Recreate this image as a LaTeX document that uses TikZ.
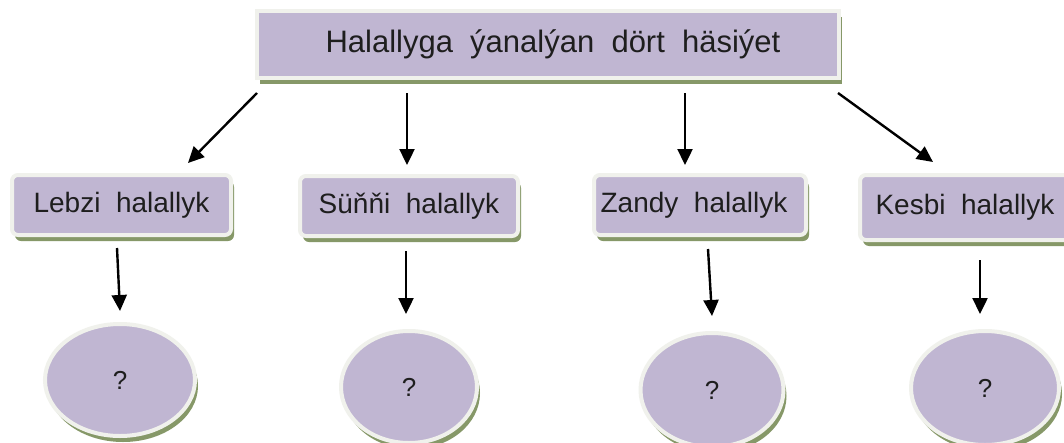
\documentclass[tikz,border=0pt]{standalone}
\usepackage{fontspec}
\setmainfont{Liberation Sans}
\usetikzlibrary{arrows.meta,shadows,shapes.geometric}
\definecolor{boxfill}{RGB}{192,182,210}
\definecolor{rim}{RGB}{240,241,236}
\definecolor{shade}{RGB}{134,152,104}
\definecolor{ink}{RGB}{30,30,30}
\begin{document}
\begin{tikzpicture}[x=1pt,y=-1pt,
  base/.style={fill=boxfill, draw=rim, line width=4pt, text=ink, inner sep=0pt},
  shadowed/.style={drop shadow={shadow xshift=3pt, shadow yshift=-6pt, fill=shade, opacity=1}},
  topbox/.style={base, shadowed, rectangle, minimum width=582pt, minimum height=67pt,
    font=\fontsize{31}{36}\selectfont},
  catbox/.style={base, shadowed, rectangle, rounded corners=6pt,
    font=\fontsize{28}{32}\selectfont},
  qoval/.style={base, shadowed, ellipse, font=\fontsize{26}{30}\selectfont},
  arr/.style={line width=2.4pt, draw=black, -{Triangle[length=16pt,width=15pt]}}
]
\useasboundingbox (0,0) rectangle (1064,442);
\clip (0,0) rectangle (1064,442);
\fill[white] (0,0) rectangle (1064,442);

\node[topbox] (top) at (548,44.5) {\hspace*{10pt}Halallyga\ \ ýanalýan\ \ dört\ \ häsiýet};

\node[catbox, minimum width=219pt, minimum height=60pt] (lebzi) at (121.5,205) {Lebzi\ \ halallyk};
\node[catbox, minimum width=218pt, minimum height=60pt] (sunni) at (409,206) {Süňňi\ \ halallyk};
\node[catbox, minimum width=212pt, minimum height=60pt] (zandy) at (700,205) {Zandy\ \ halallyk\hspace*{12pt}};
\node[catbox, minimum width=210pt, minimum height=65pt] (kesbi) at (965,207.5) {Kesbi\ \ halallyk};

\node[qoval, minimum width=150pt, minimum height=112pt] (q1) at (120,380) {?};
\node[qoval, minimum width=136pt, minimum height=112pt] (q2) at (409,387) {?};
\node[qoval, minimum width=143pt, minimum height=114pt] (q3) at (712,390) {?};
\node[qoval, minimum width=148pt, minimum height=114pt] (q4) at (985,388) {?};

\draw[arr] ([xshift=2pt,yshift=-13pt]top.south west) -- ([xshift=66.5pt,yshift=10pt]lebzi.north);
\draw[arr] ([xshift=-141pt,yshift=-13pt]top.south) -- ([xshift=-2pt,yshift=9pt]sunni.north);
\draw[arr] ([xshift=137pt,yshift=-13pt]top.south) -- ([xshift=-15pt,yshift=8pt]zandy.north);
\draw[arr] ([xshift=-3pt,yshift=-13pt]top.south east) -- ([xshift=-32pt,yshift=11pt]kesbi.north);

\draw[arr] ([xshift=-4.5pt,yshift=-11pt]lebzi.south) -- ([yshift=11pt]q1.north);
\draw[arr] ([xshift=-3pt,yshift=-13pt]sunni.south) -- ([xshift=-3pt,yshift=15pt]q2.north);
\draw[arr] ([xshift=8pt,yshift=-12pt]zandy.south) -- ([yshift=15pt]q3.north);
\draw[arr] ([xshift=15pt,yshift=-18pt]kesbi.south) -- ([xshift=-5pt,yshift=15pt]q4.north);
\end{tikzpicture}
\end{document}
